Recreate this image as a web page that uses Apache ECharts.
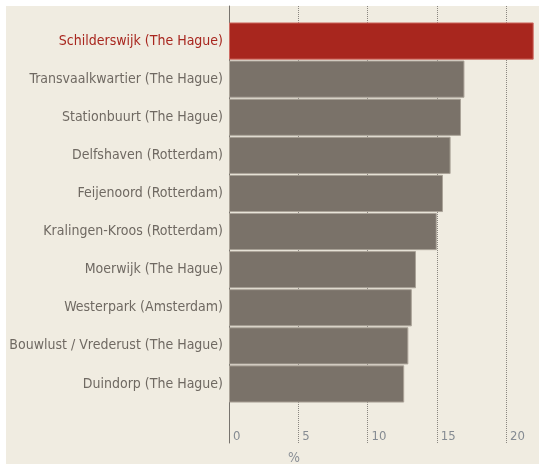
<!DOCTYPE html>
<html>
<head>
<meta charset="utf-8">
<script src="https://cdn.jsdelivr.net/npm/echarts@6/dist/echarts.min.js"></script>
<style>
html,body{margin:0;padding:0;background:#ffffff;}
#chart{width:539px;height:464px;}
</style>
</head>
<body>
<div id="chart"></div>
<script>
var categories = [
  "Schilderswijk (The Hague)",
  "Transvaalkwartier (The Hague)",
  "Stationbuurt (The Hague)",
  "Delfshaven (Rotterdam)",
  "Feijenoord (Rotterdam)",
  "Kralingen-Kroos (Rotterdam)",
  "Moerwijk (The Hague)",
  "Westerpark (Amsterdam)",
  "Bouwlust / Vrederust (The Hague)",
  "Duindorp (The Hague)"
];
var values = [22.0, 17.0, 16.75, 16.0, 15.45, 15.0, 13.5, 13.2, 12.95, 12.65];
var highlightIndex = 0;
var unitLabel = "%";

var FONT = '"Liberation Sans Narrow", "DejaVu Sans Condensed", sans-serif';
var RED = "#a8261e";
var GRAY = "#7a7269";

var chart = echarts.init(document.getElementById('chart'), null, {renderer: 'canvas'});
chart.setOption({
  backgroundColor: '#ffffff',
  animation: false,
  graphic: [{
    type: 'rect', silent: true, z: -100,
    shape: {x: 6, y: 6, width: 533, height: 458},
    style: {fill: '#f0ece1'}
  }],
  title: {
    text: unitLabel, left: 283, top: 446,
    textStyle: {fontFamily: FONT, fontSize: 14, color: '#8a8f96', fontWeight: 'normal'}
  },
  grid: [
    {left: 229, right: 5.3, top: 22, bottom: 61, containLabel: false, outerBoundsMode: 'none'},
    {left: 229, right: 5.3, top: 6, bottom: 21, containLabel: false, outerBoundsMode: 'none'}
  ],
  xAxis: [
    {gridIndex: 0, type: 'value', min: 0, max: 22, show: false},
    {gridIndex: 1, type: 'value', min: 0, max: 22, interval: 5,
      axisLine: {show: false}, axisTick: {show: false},
      splitLine: {show: true, showMaxLine: false, showMinLine: false,
        lineStyle: {color: '#8a8680', type: [1, 1], width: 1}},
      axisLabel: {inside: true, margin: 0, align: 'left', padding: [0, 0, 0, 4],
        fontFamily: FONT, fontSize: 13, color: '#858b92',
        showMaxLabel: false,
        formatter: function (v) { return v % 5 === 0 ? String(v) : ''; }}
    }
  ],
  yAxis: [
    {gridIndex: 0, type: 'category', data: categories, inverse: true,
      axisLine: {show: false}, axisTick: {show: false}, splitLine: {show: false},
      axisLabel: {margin: 6, fontFamily: FONT, fontSize: 14,
        color: function (v, i) { return i === highlightIndex ? RED : '#6f6962'; }}
    },
    {gridIndex: 1, type: 'value', min: 0, max: 1,
      axisLine: {show: true, onZero: false, lineStyle: {color: '#77736d', width: 1}},
      axisTick: {show: false}, axisLabel: {show: false}, splitLine: {show: false}}
  ],
  series: [{
    type: 'bar', xAxisIndex: 0, yAxisIndex: 0,
    data: values.map(function (v, i) {
      return {
        value: v,
        itemStyle: i === highlightIndex
          ? {color: RED, borderColor: '#cf6d64', borderWidth: 1}
          : {color: GRAY, borderColor: '#aaa398', borderWidth: 1}
      };
    }),
    barWidth: 37.2,
    z: 5
  }]
});
</script>
</body>
</html>
